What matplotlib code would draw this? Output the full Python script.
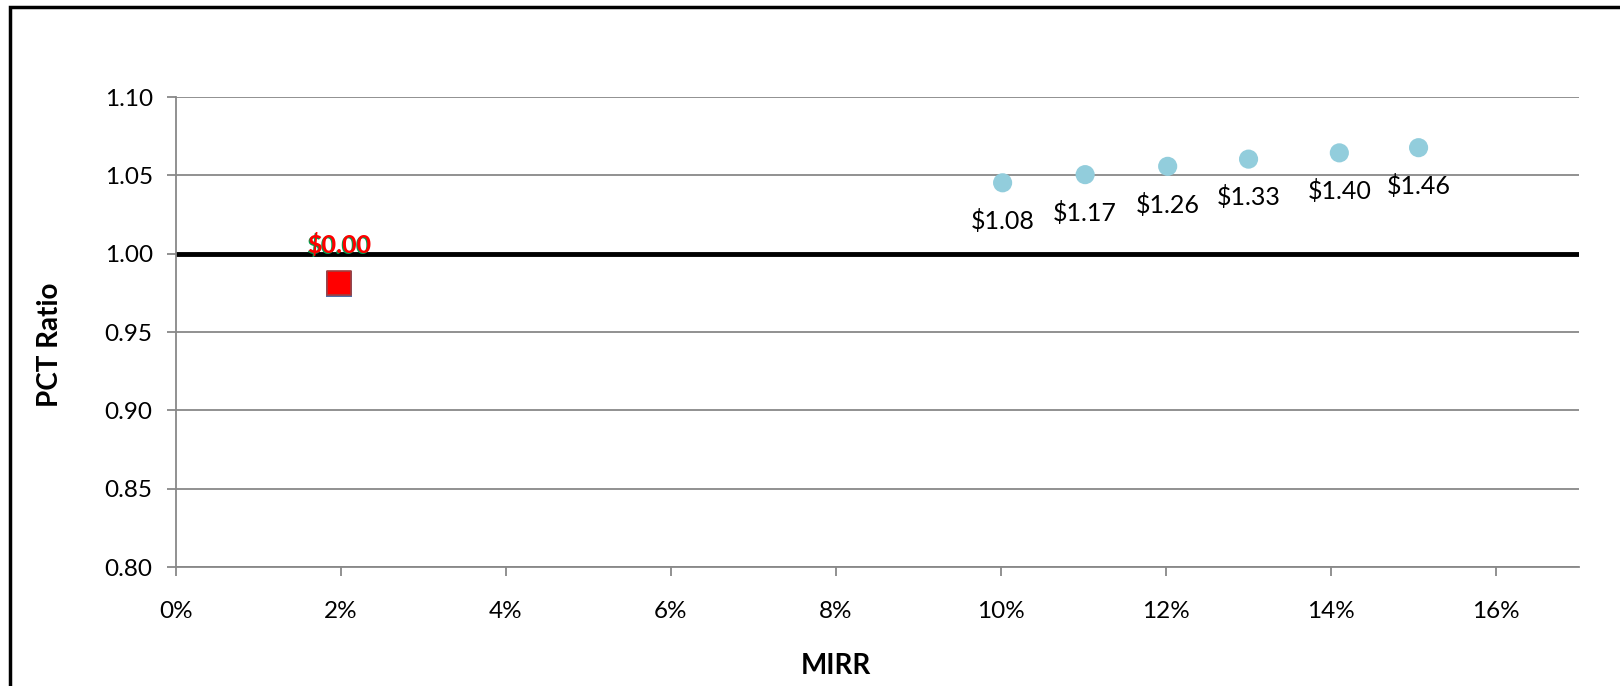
import matplotlib
matplotlib.use('Agg')
import matplotlib.pyplot as plt
import matplotlib.ticker as ticker
from matplotlib.patches import Rectangle

plt.rcParams['font.family'] = ['Lato', 'DejaVu Sans']

# data
mirr = [0.1002, 0.1102, 0.1202, 0.1300, 0.1410, 0.1506]
pct_ratio = [1.0453, 1.0505, 1.0558, 1.0604, 1.0644, 1.0677]
value_labels = ['$1.08', '$1.17', '$1.26', '$1.33', '$1.40', '$1.46']

red_mirr = [0.0198]
red_ratio = [0.9813]
red_labels = ['$0.00']

grey = '#888888'

fig = plt.figure(figsize=(16.2, 6.86), dpi=100)
ax = fig.add_axes([0.1084, 0.1732, 0.8661, 0.6853])

ax.set_xlim(0, 0.17)
ax.set_ylim(0.80, 1.10)
ax.xaxis.set_major_locator(ticker.MultipleLocator(0.02))
ax.yaxis.set_major_locator(ticker.MultipleLocator(0.05))
ax.xaxis.set_major_formatter(ticker.FuncFormatter(lambda v, p: f'{v * 100:.0f}%'))
ax.yaxis.set_major_formatter(ticker.FormatStrFormatter('%.2f'))

ax.grid(axis='y', color=grey, linewidth=1.3)
ax.set_axisbelow(True)
for side in ['top', 'right']:
    ax.spines[side].set_visible(False)
for side in ['left', 'bottom']:
    ax.spines[side].set_color(grey)
    ax.spines[side].set_linewidth(1.3)
ax.tick_params(axis='both', colors=grey, width=1.3, length=6.5, labelsize=17.5,
               labelcolor='black')
ax.tick_params(axis='x', pad=18)
ax.tick_params(axis='y', pad=10)

ax.axhline(1.0, color='black', linewidth=3.5, zorder=2)

ax.scatter(mirr, pct_ratio, s=190, color='#92cddc', edgecolors='none', zorder=3)
for x, y, lab in zip(mirr, pct_ratio, value_labels):
    ax.annotate(lab, (x, y), xytext=(0, -27.5), textcoords='offset points',
                ha='center', va='center', fontsize=18, color='black')

# red square with a blue one peeking out underneath
ax.scatter(red_mirr, [r - 0.0005 for r in red_ratio], s=340, marker='s',
           color='#4f6fa8', edgecolors='none', zorder=3)
ax.scatter(red_mirr, red_ratio, s=300, marker='s', color='red',
           edgecolors='#a04040', linewidths=1.2, zorder=4)
for x, y, lab in zip(red_mirr, red_ratio, red_labels):
    ax.annotate(lab, (x, y), xytext=(-0.7, 26.5), textcoords='offset points',
                ha='center', va='center', fontsize=18, fontweight='bold', color='#00a050')
    ax.annotate(lab, (x, y), xytext=(0.2, 27.2), textcoords='offset points',
                ha='center', va='center', fontsize=18, fontweight='bold', color='red')

fig.text(50 / 1620, 1 - 345 / 686, 'PCT Ratio', rotation=90, ha='center', va='center',
         fontsize=20, fontweight='bold')
fig.text(836 / 1620, 1 - 666 / 686, 'MIRR', ha='center', va='center',
         fontsize=20, fontweight='bold')

fig.patches.append(Rectangle((10 / 1620, -0.1), 1.2, 1.1 - 7 / 686, transform=fig.transFigure,
                             fill=False, edgecolor='black', linewidth=2.5))

fig.savefig('out.png', dpi=100)
plt.close()
